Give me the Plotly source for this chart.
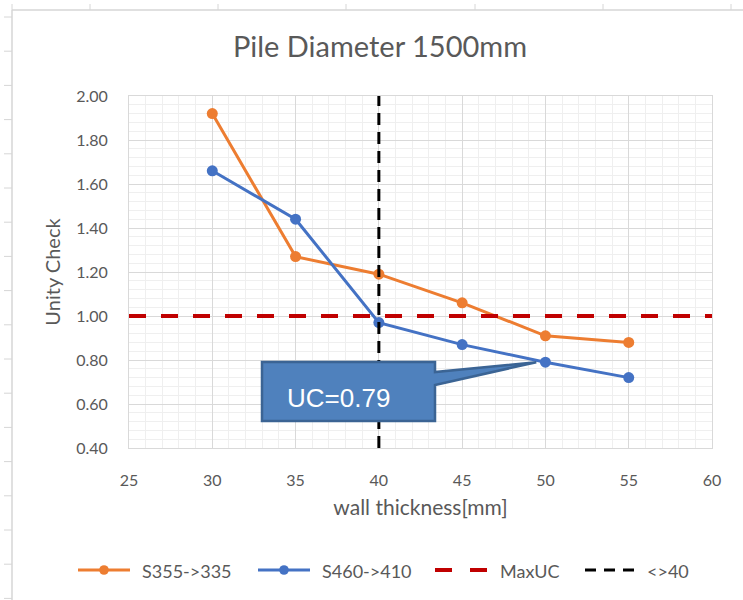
import plotly.graph_objects as go

# Unity check vs. wall thickness for a 1500 mm pile
thickness = [30, 35, 40, 45, 50, 55]
uc_s355 = [1.92, 1.27, 1.19, 1.06, 0.91, 0.88]
uc_s460 = [1.66, 1.44, 0.97, 0.87, 0.79, 0.72]

series_names = ["S355->335", "S460->410", "MaxUC", "<>40"]
max_uc = 1.0
ref_thickness = 40
x_range = [25, 60]
y_range = [0.4, 2.0]

# Point highlighted by the callout
callout_x = 50
callout_y = uc_s460[thickness.index(callout_x)]

W, H = 743, 600
L, R, T, B = 129, 712, 96, 448  # plot area in pixels

ORANGE = "#ED7D31"
BLUE = "#4472C4"
DARK_RED = "#C00000"
TEXT = "#595959"
FONT = "Lato"

styles = [
    dict(color=ORANGE, width=3, dash="solid", marker=True),
    dict(color=BLUE, width=3, dash="solid", marker=True),
    dict(color=DARK_RED, width=4, dash="17px,15px", marker=False),
    dict(color="black", width=3, dash="12px,7px", marker=False),
]


def px_x(p):
    return (p - L) / (R - L)


def px_y(p):
    return (B - p) / (B - T)


def dx(p):
    return x_range[0] + (p - L) / (R - L) * (x_range[1] - x_range[0])


def dy(p):
    return y_range[0] + (B - p) / (B - T) * (y_range[1] - y_range[0])


fig = go.Figure()
for name, ys, st in [(series_names[0], uc_s355, styles[0]),
                     (series_names[1], uc_s460, styles[1])]:
    fig.add_trace(go.Scatter(
        x=thickness, y=ys, name=name, mode="lines+markers",
        line=dict(color=st["color"], width=st["width"]),
        marker=dict(color=st["color"], size=11),
    ))
fig.add_trace(go.Scatter(
    x=x_range, y=[max_uc, max_uc], name=series_names[2], mode="lines",
    line=dict(color=styles[2]["color"], width=styles[2]["width"], dash=styles[2]["dash"]),
))
fig.add_trace(go.Scatter(
    x=[ref_thickness, ref_thickness], y=y_range, name=series_names[3], mode="lines",
    line=dict(color=styles[3]["color"], width=styles[3]["width"], dash=styles[3]["dash"]),
))

shapes = []
annotations = []
GRID = "#D6D6D6"
# sheet column/row lines peeking out around the chart object
shapes.append(dict(type="line", xref="paper", yref="paper",
                   x0=px_x(12), x1=px_x(W + 5), y0=px_y(10), y1=px_y(10),
                   line=dict(color=GRID, width=1.5), layer="below"))
shapes.append(dict(type="line", xref="paper", yref="paper",
                   x0=px_x(12), x1=px_x(12), y0=px_y(10), y1=px_y(H + 5),
                   line=dict(color=GRID, width=1.5), layer="below"))
for cx in [12, 90, 218, 346, 475, 603, 731]:
    shapes.append(dict(type="line", xref="paper", yref="paper",
                       x0=px_x(cx), x1=px_x(cx), y0=px_y(4), y1=px_y(10),
                       line=dict(color=GRID, width=1), layer="below"))
ry = 17
while ry < H:
    shapes.append(dict(type="line", xref="paper", yref="paper",
                       x0=px_x(4), x1=px_x(12), y0=px_y(ry), y1=px_y(ry),
                       line=dict(color=GRID, width=1), layer="below"))
    ry += 34.2

# legend row: symbol sample followed by the series name
legend_y = 570
legend_starts = [78, 258, 435, 585]
sym_len = [52, 52, 53, 50]
legend_dash = ["solid", "solid", "17px,18px", "11px,8px"]
for name, st, x0, ln, dsh in zip(series_names, styles, legend_starts, sym_len, legend_dash):
    shapes.append(dict(type="line", xref="paper", yref="paper",
                       x0=px_x(x0), x1=px_x(x0 + ln), y0=px_y(legend_y), y1=px_y(legend_y),
                       line=dict(color=st["color"], width=st["width"], dash=dsh)))
    if st["marker"]:
        cx, r = x0 + ln / 2, 4.8
        shapes.append(dict(type="circle", xref="paper", yref="paper",
                           x0=px_x(cx - r), x1=px_x(cx + r),
                           y0=px_y(legend_y + r), y1=px_y(legend_y - r),
                           fillcolor=st["color"], line=dict(width=0)))
    annotations.append(dict(x=px_x(x0 + ln + 10), y=px_y(legend_y + 1), xref="paper", yref="paper",
                            xanchor="left", yanchor="middle", text=name, showarrow=False,
                            font=dict(family=FONT, size=18, color=TEXT)))

# callout box with a wedge pointing at the highlighted point
bx0, bx1 = dx(262), dx(435)
by0, by1 = dy(362), dy(421)
wy0, wy1 = dy(372), dy(385)
tip_x = callout_x - 0.55
path = (f"M {bx0},{by0} L {bx1},{by0} L {bx1},{wy0} L {tip_x},{callout_y} "
        f"L {bx1},{wy1} L {bx1},{by1} L {bx0},{by1} Z")
shapes.append(dict(type="path", xref="x", yref="y", path=path,
                   fillcolor="#4F81BD", line=dict(color="#3B6494", width=2.5),
                   layer="above"))
annotations.append(dict(
    x=dx(285), y=dy(398), xref="x", yref="y", xanchor="left", yanchor="middle",
    text=f"UC={callout_y:.2f}", showarrow=False,
    font=dict(family="Liberation Sans, Arial", size=26, color="white"),
))

fig.update_layout(
    width=W, height=H,
    margin=dict(l=L, r=W - R, t=T, b=H - B, pad=0),
    paper_bgcolor="white", plot_bgcolor="white",
    font=dict(family=FONT, color=TEXT, size=16),
    title=dict(text="Pile Diameter 1500mm", x=380 / W, xanchor="center",
               y=1 - 47 / H, yanchor="middle", xref="container", yref="container",
               font=dict(family=FONT, size=29, color=TEXT)),
    showlegend=False,
    shapes=shapes,
    annotations=annotations,
)

fig.update_xaxes(
    range=x_range, dtick=5, tick0=25, showgrid=True, gridcolor="#D9D9D9", gridwidth=1,
    minor=dict(dtick=1, showgrid=True, gridcolor="#EFEFEF", gridwidth=1),
    zeroline=False, showline=True, linecolor="#D9D9D9", linewidth=1, mirror=True,
    ticks="", ticklabelstandoff=18,
    tickfont=dict(family=FONT, size=16, color=TEXT),
    title=dict(text="wall thickness[mm]", standoff=12,
               font=dict(family=FONT, size=21, color=TEXT)),
)
fig.update_yaxes(
    range=y_range, dtick=0.2, tick0=0.4, tickformat=".2f",
    showgrid=True, gridcolor="#D9D9D9", gridwidth=1,
    minor=dict(dtick=0.04, showgrid=True, gridcolor="#EFEFEF", gridwidth=1),
    zeroline=False, showline=True, linecolor="#D9D9D9", linewidth=1, mirror=True,
    ticks="", ticklabelstandoff=17,
    tickfont=dict(family=FONT, size=16, color=TEXT),
    title=dict(text="Unity Check", standoff=10,
               font=dict(family=FONT, size=20, color=TEXT)),
)

fig.write_html("out.html")
